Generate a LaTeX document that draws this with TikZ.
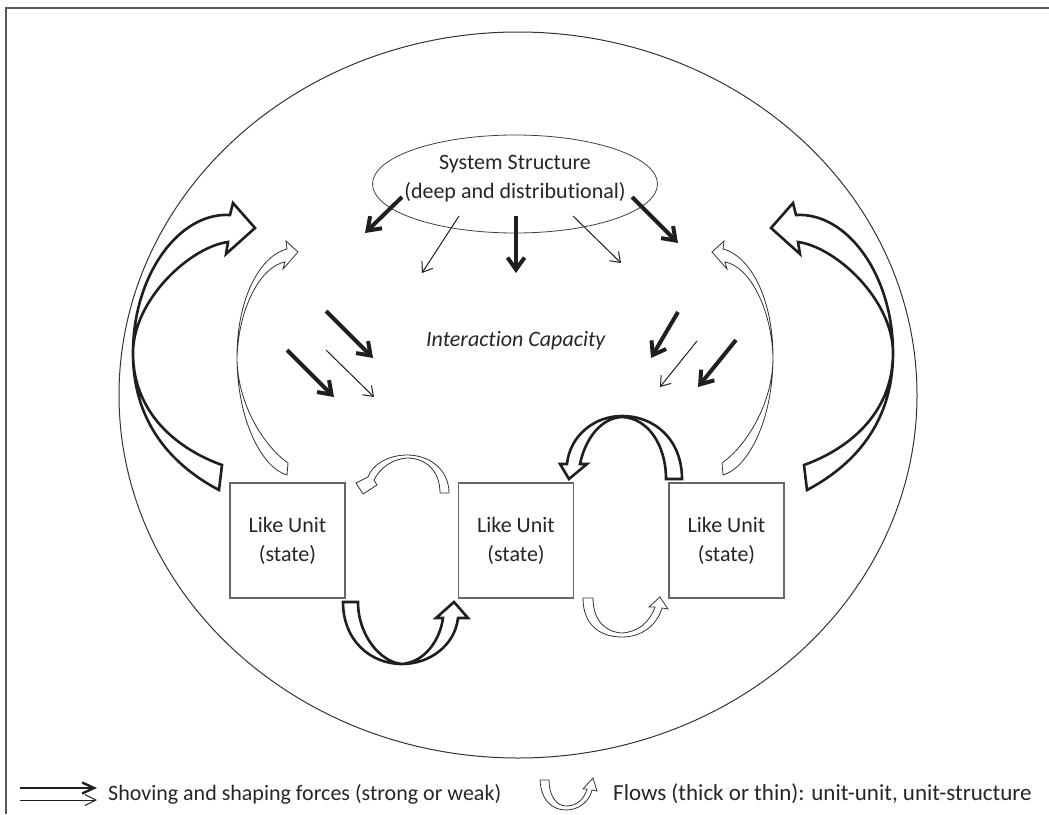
\documentclass[tikz,border=0pt]{standalone}
\usepackage{fontspec}
\setmainfont{Carlito}[Ligatures=CommonOff]
\usetikzlibrary{arrows.meta,shapes.geometric}
\tikzset{
  frm/.style={line width=2pt,black!65},
  rim/.style={line width=1pt,black!80},
  unit/.style={draw=black!60,line width=1.1pt,minimum width=115pt,minimum height=115pt,inner sep=0pt,align=center,text=black!85,font=\fontsize{22}{29}\selectfont},
  lbl/.style={inner sep=0pt,align=center,text=black!85,font=\fontsize{22}{29}\selectfont},
  strong/.style={line width=4pt,black!88,-{Straight Barb[length=12pt,width=17pt]}},
  weak/.style={line width=1pt,black!88,-{Straight Barb[length=9pt,width=13pt]}},
  fthick/.style={line width=2.6pt,black!88},
  fthin/.style={line width=0.8pt,black!80}
}
\newcommand{\bigflow}{%
  \draw[fthick] (219,490) .. controls (183,471) and (133,432) .. (133,353)
    .. controls (133,275) and (179,212) .. (230,215) -- (233,203) -- (255,228)
    -- (226,254) -- (228,242) .. controls (190,247) and (133,300) .. (133,353)
    .. controls (133,415) and (180,450) .. (222,465) -- cycle;}
\newcommand{\thinflow}{%
  \draw[fthin] (287,475) .. controls (262,468) and (237,420) .. (237,357)
    .. controls (237,295) and (262,255) .. (287,249) -- (286,241) -- (298,252)
    -- (283,269) -- (285,262) .. controls (262,266) and (239,305) .. (237,357)
    .. controls (237,405) and (265,447) .. (288,463) -- cycle;}

\begin{document}
\begin{tikzpicture}[x=1pt,y=-1pt]
\useasboundingbox (0,0) rectangle (1049,814);
\draw[frm] (1049,8) -- (6,8) -- (6,814);
\draw[rim] (518,395) ellipse [x radius=399pt,y radius=363pt];

\node[ellipse,draw=black!75,line width=0.8pt,minimum width=285pt,minimum height=98pt] (sys) at (515,184) {};
\node[lbl] (systxt) at (515,179) {System Structure\\(deep and distributional)};
\node[lbl] (ic) at (516,341) {\textit{Interaction Capacity}};

\node[unit] (u1) at (287.5,540.5) {Like Unit\\(state)};
\node[unit] (u2) at (516,540.5) {Like Unit\\(state)};
\node[unit] (u3) at (726.5,540.5) {Like Unit\\(state)};

\draw[strong] ([shift={(-113,13)}]sys.center) -- ++(-37,36);
\draw[weak] ([shift={(-56,32)}]sys.center) -- ++(-37,57);
\draw[strong] ([shift={(1,32)}]sys.center) -- ++(0,57);
\draw[weak] ([shift={(58,32)}]sys.center) -- ++(48,47);
\draw[strong] ([shift={(117,13)}]sys.center) -- ++(46,46);

\draw[strong] (326,311) -- (373,358);
\draw[strong] (287,350) -- (334,397);
\draw[weak] (326,350) -- (374,397);
\draw[strong] (678,312) -- (651,358);
\draw[weak] (697,341) -- (660,387);
\draw[strong] (736,340) -- (698,387);

\bigflow
\thinflow
\begin{scope}[xshift=1026pt,xscale=-1]
\bigflow
\end{scope}
\begin{scope}[xshift=1010pt,xscale=-1]
\thinflow
\end{scope}

\draw[fthin] (449,493) .. controls (449,470) and (430,455) .. (407,455)
  .. controls (388,455) and (372,465) .. (368,477) -- (356,483) -- (363,494)
  -- (377,485) -- (374,480) .. controls (380,468) and (392,459) .. (407,458)
  .. controls (425,458) and (440,470) .. (440,493) -- cycle;
\draw[fthick] (343,602) .. controls (343,640) and (370,664) .. (402,664)
  .. controls (430,664) and (455,645) .. (458,618) -- (468,618) -- (454,602)
  -- (436,618) -- (443,618) .. controls (440,640) and (425,662) .. (402,664)
  .. controls (380,662) and (358,635) .. (358,602) -- cycle;
\draw[fthick] (682,479) .. controls (682,440) and (655,416) .. (622,416)
  .. controls (595,416) and (570,435) .. (567,464) -- (560,464) -- (569,479)
  -- (587,464) -- (580,464) .. controls (585,440) and (600,418) .. (622,417)
  .. controls (648,418) and (666,445) .. (666,479) -- cycle;
\draw[fthin] (583,598) .. controls (583,625) and (600,637) .. (622,637)
  .. controls (642,637) and (657,625) .. (662,608) -- (668,609) -- (660,597)
  -- (649,607) -- (655,607) .. controls (650,622) and (638,632) .. (622,633)
  .. controls (605,632) and (593,620) .. (593,598) -- cycle;

\node[lbl,anchor=west] (lg1) at (108,794) {Shoving and shaping forces (strong or weak)};
\node[lbl,anchor=west,font=\fontsize{23}{29}\selectfont] (lg2) at (613,794) {Flows (thick or thin): unit-unit, unit-structure};
\draw[strong,line width=2.4pt,-{Straight Barb[length=12pt,width=11pt]}] ([shift={(-88,-6)}]lg1.west) -- ++(77,0);
\draw[weak,-{Straight Barb[length=11pt,width=11pt]}] ([shift={(-88,6)}]lg1.west) -- ++(77,0);
\draw[fthin] (540,780) .. controls (541,800) and (552,810) .. (566,810)
  .. controls (580,810) and (590,800) .. (592,790) -- (597,791) -- (593,778)
  -- (583,789) -- (587,789) .. controls (584,800) and (576,806) .. (566,806)
  .. controls (556,806) and (549,795) .. (549,780) -- cycle;
\end{tikzpicture}
\end{document}
